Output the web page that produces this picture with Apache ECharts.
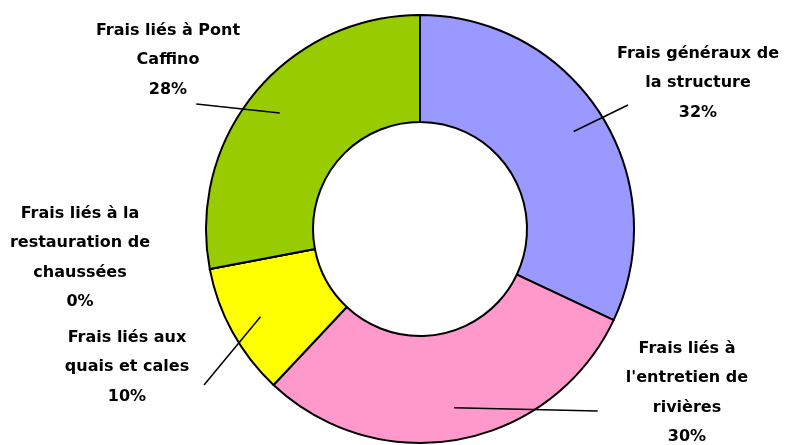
<!DOCTYPE html>
<html>
<head>
<meta charset="utf-8">
<script src="https://cdn.jsdelivr.net/npm/echarts@6/dist/echarts.min.js"></script>
<style>html,body{margin:0;padding:0;background:#fff}#c{width:786px;height:445px}</style>
</head>
<body>
<div id="c"></div>
<script>
var categories = [
  'Frais généraux de\nla structure',
  "Frais liés à\nl'entretien de\nrivières",
  'Frais liés aux\nquais et cales',
  'Frais liés à la\nrestauration de\nchaussées',
  'Frais liés à Pont\nCaffino'
];
var values = [32, 30, 10, 0, 28];
var colors = ['#9999FF', '#FF99CC', '#FFFF00', '#FFFFFF', '#99CC00'];

// label text block centres and leader-line end points
var labelPos = [[698, 83], [687, 393], [127, 367], [80, 258], [168, 60]];
var lineEnd = [[628, 104], [598, 411], [204, 386], [80, 258], [196, 104]];

var chart = echarts.init(document.getElementById('c'));
chart.setOption({
  animation: false,
  series: [
    {
      type: 'pie',
      center: [420, 229],
      radius: [107, 214],
      startAngle: 90,
      clockwise: true,
      silent: true,
      itemStyle: { borderColor: '#000', borderWidth: 2 },
      label: {
        show: true,
        formatter: '{b}\n{d}%',
        color: '#000',
        fontFamily: 'DejaVu Sans',
        fontWeight: 'bold',
        fontSize: 16,
        lineHeight: 29.5,
        align: 'center',
        overflow: 'none'
      },
      labelLine: { show: false },
      labelLayout: function (p) {
        var pos = labelPos[p.dataIndex];
        return { x: pos[0], y: pos[1], align: 'center', verticalAlign: 'middle' };
      },
      data: categories.map(function (c, i) {
        return { name: c, value: values[i], itemStyle: { color: colors[i] } };
      })
    },
    {
      type: 'pie',
      center: [420, 229],
      radius: [0, 182],
      startAngle: 90,
      clockwise: true,
      silent: true,
      z: 3,
      itemStyle: { color: 'rgba(0,0,0,0)', borderWidth: 0 },
      label: {
        show: true,
        formatter: '.',
        color: 'rgba(0,0,0,0)',
        fontSize: 2
      },
      labelLine: { show: true, length: 10, length2: 0, lineStyle: { color: '#000', width: 1.5 } },
      labelLayout: function (p) {
        var pos = lineEnd[p.dataIndex];
        return { x: pos[0], y: pos[1], align: 'center', verticalAlign: 'middle' };
      },
      data: categories.map(function (c, i) {
        return { name: c, value: values[i], labelLine: { show: values[i] > 0 } };
      })
    }
  ]
});
</script>
</body>
</html>
